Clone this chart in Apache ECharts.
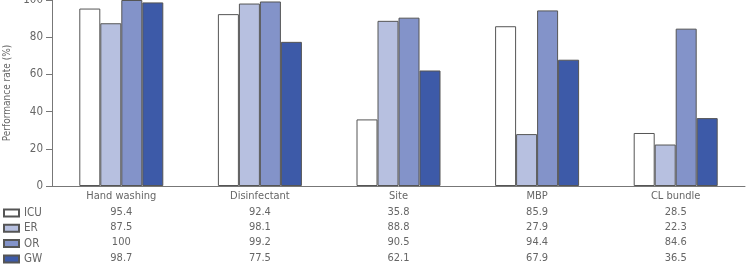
<!DOCTYPE html>
<html>
<head>
<meta charset="utf-8">
<script src="https://cdn.jsdelivr.net/npm/echarts@6/dist/echarts.min.js"></script>
<style>
  html, body { margin: 0; padding: 0; background: #fff; }
  #chart { width: 749px; height: 268px; }
</style>
</head>
<body>
<div id="chart"></div>
<script>
var categories = ['Hand washing', 'Disinfectant', 'Site', 'MBP', 'CL bundle'];
var seriesNames = ['ICU', 'ER', 'OR', 'GW'];
var icu = [95.4, 92.4, 35.8, 85.9, 28.5];
var er = [87.5, 98.1, 88.8, 27.9, 22.3];
var or = [100, 99.2, 90.5, 94.4, 84.6];
var gw = [98.7, 77.5, 62.1, 67.9, 36.5];
var yTicks = [0, 20, 40, 60, 80, 100];

var FONT = "'DejaVu Sans Condensed', sans-serif";
var TEXT = '#666';
var colors = ['#ffffff', '#b7c0e0', '#8393c9', '#3d5aa8'];
var rows = [icu, er, or, gw];

// table rows under the axis are extra category axes
var rowOffsets = [16, 31, 46, 62];
var tableAxes = rows.map(function(vals, i) {
    return {
        type: 'category',
        data: vals.map(String),
        position: 'bottom',
        offset: rowOffsets[i],
        axisLine: { show: false },
        axisTick: { show: false },
        axisLabel: { color: TEXT, fontSize: 11, fontFamily: FONT, margin: 5 }
    };
});

var chart = echarts.init(document.getElementById('chart'));
chart.setOption({
    animation: false,
    legend: {
        orient: 'vertical',
        left: 3,
        top: 207,
        padding: 0,
        icon: 'rect',
        itemWidth: 15,
        itemHeight: 7,
        itemGap: 3.3,
        data: seriesNames,
        textStyle: { color: TEXT, fontSize: 11.5, fontFamily: FONT, lineHeight: 12 }
    },
    grid: { left: 52, right: 4, top: 0, bottom: 82, outerBoundsMode: 'none' },
    xAxis: [{
        type: 'category',
        data: categories,
        axisLine: { lineStyle: { color: '#777' } },
        axisTick: { alignWithLabel: true, length: 5, lineStyle: { color: '#777' } },
        axisLabel: { color: TEXT, fontSize: 11, fontFamily: FONT, margin: 5 }
    }].concat(tableAxes),
    yAxis: {
        type: 'value',
        min: yTicks[0],
        max: yTicks[yTicks.length - 1],
        interval: 20,
        name: 'Performance rate (%)',
        nameLocation: 'middle',
        nameGap: 29,
        nameTextStyle: { color: TEXT, fontSize: 10, fontFamily: FONT },
        axisLine: { show: true, lineStyle: { color: '#777' } },
        axisTick: { show: true, length: 6, lineStyle: { color: '#777' } },
        axisLabel: { color: TEXT, fontSize: 11.5, fontFamily: FONT, margin: 9 },
        splitLine: { show: false }
    },
    series: seriesNames.map(function(name, i) {
        return {
            name: name,
            type: 'bar',
            xAxisIndex: 0,
            data: rows[i],
            barWidth: 21,
            barGap: 0,
            itemStyle: { color: colors[i], borderColor: '#555', borderWidth: 1 }
        };
    })
});
</script>
</body>
</html>
